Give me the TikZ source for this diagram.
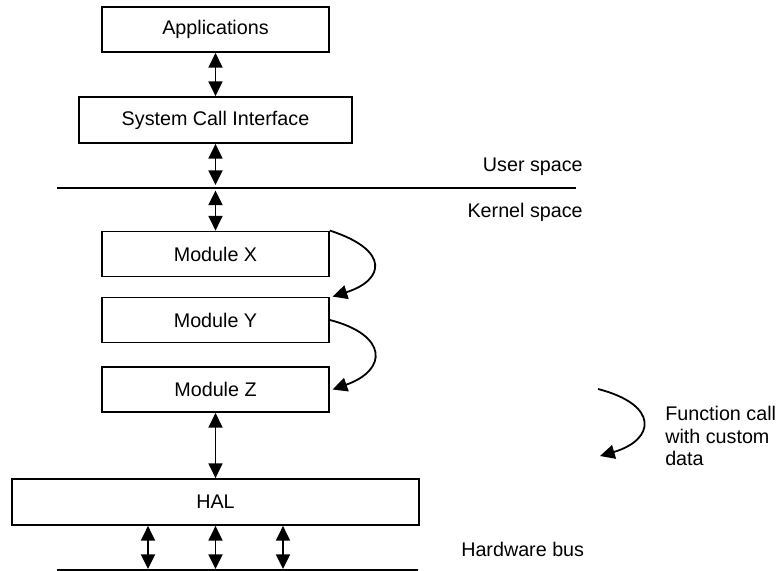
\documentclass[tikz,border=0pt]{standalone}
\usepackage{fontspec}
\setmainfont{Liberation Sans}
\usetikzlibrary{arrows.meta}
\begin{document}
\begin{tikzpicture}[x=0.75pt,y=-0.75pt,
  box/.style={draw,line width=1.35pt,inner sep=0pt,minimum width=170.25pt,minimum height=33.75pt,font=\fontsize{14.8pt}{16.9pt}\selectfont},
  lbl/.style={inner sep=0pt,font=\fontsize{14.8pt}{16.9pt}\selectfont},
  conn/.style={line width=1.35pt,{Triangle[width=10.5pt,length=11pt]}-{Triangle[width=10.5pt,length=11pt]}},
  call/.style={line width=1.35pt,-{Triangle[width=10.5pt,length=11pt]}},
  sep/.style={line width=1.35pt}]
\useasboundingbox (0,0) rectangle (776,571);
% boxes
\node[box] (apps) at (215.5,29.5) {Applications};
\node[box,minimum width=204.75pt,minimum height=34.5pt] (sci) at (215.5,120) {System Call Interface};
\node[box] (mx) at (215.5,254) {Module X};
\node[box] (my) at (215.5,320) {Module Y};
\node[box] (mz) at (215.5,389.5) {Module Z};
\node[box,minimum width=305.25pt,minimum height=34.5pt] (hal) at (215.5,502) {HAL};
% user/kernel separator
\coordinate (ls) at (57,188);
\coordinate (le) at (576,188);
\draw[sep] (ls) -- (le);
\coordinate (ua) at (215.5,185);
\coordinate (ka) at (215.5,190.5);
% hardware bus
\coordinate (bs) at (57,570);
\coordinate (be) at (418,570);
\draw[sep] (bs) -- (be);
\coordinate (b1) at (148,569);
\coordinate (b2) at (215.5,569);
\coordinate (b3) at (283,569);
% connectors
\draw[conn] (apps) -- (sci);
\draw[conn] (sci) -- (ua);
\draw[conn] (ka) -- (mx);
\draw[conn] (mz) -- (hal);
\draw[conn] (hal.south -| b1) -- (b1);
\draw[conn] (hal.south -| b2) -- (b2);
\draw[conn] (hal.south -| b3) -- (b3);
% function calls
\draw[call] (mx.north east) .. controls (390,250) and (385,280) .. ([xshift=2pt]my.north east);
\draw[call] (my.east) .. controls (388,335) and (388,370) .. ([xshift=2pt]mz.east);
% legend
\coordinate (lg1) at (598,389);
\coordinate (lg2) at (600,456);
\draw[call] (lg1) .. controls (660,405) and (655,440) .. (lg2);
\node[lbl,anchor=north west,align=left] (legend) at (665,406) {Function call\\with custom\\data};
% labels
\node[lbl,anchor=east] (user) at (583,166.5) {User space};
\node[lbl,anchor=east] (kernel) at (583,212) {Kernel space};
\node[lbl,anchor=west] (hw) at (461,549) {Hardware bus};
\end{tikzpicture}
\end{document}
